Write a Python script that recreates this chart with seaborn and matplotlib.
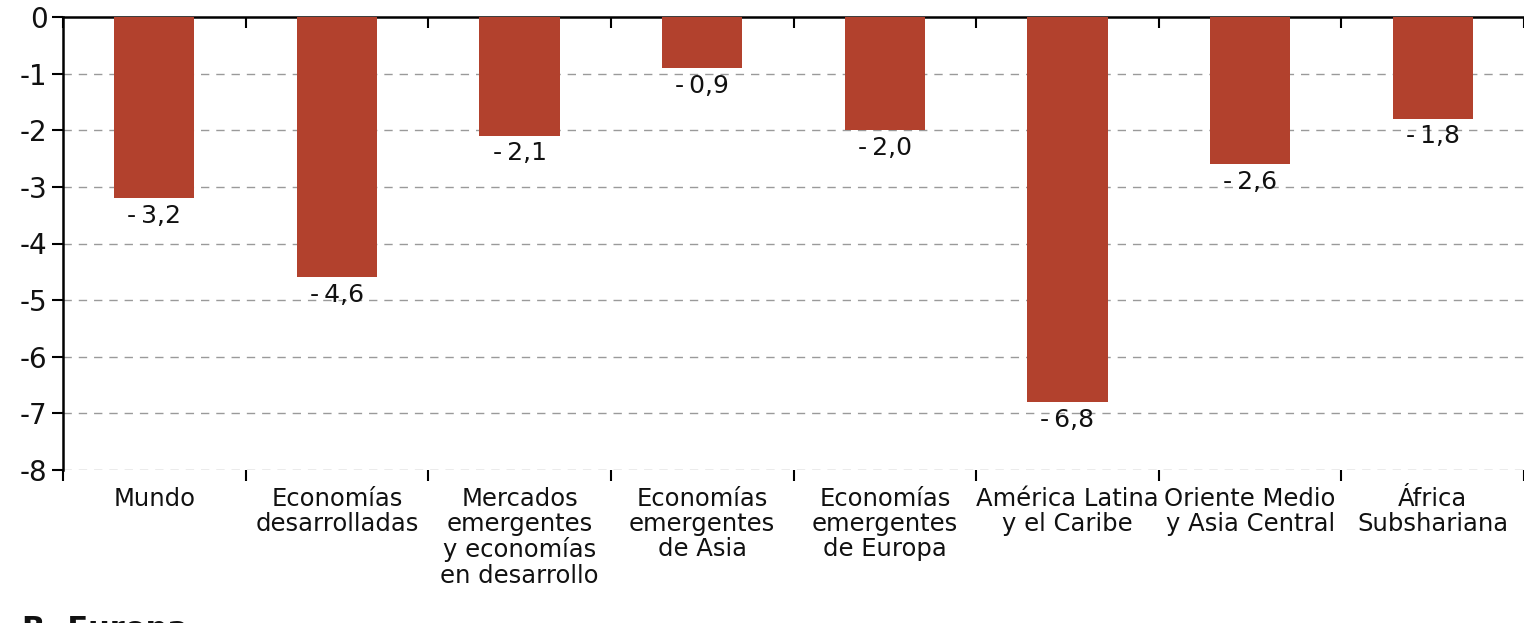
import numpy as np
import pandas as pd
import matplotlib
matplotlib.use("Agg")
import matplotlib.pyplot as plt
import seaborn as sns

categories = ["Mundo", "Economías\ndesarrolladas", "Mercados\nemergentes\ny economías\nen desarrollo",
              "Economías\nemergentes\nde Asia", "Economías\nemergentes\nde Europa",
              "América Latina\ny el Caribe", "Oriente Medio\ny Asia Central", "África\nSubshariana"]
values = [-3.2, -4.6, -2.1, -0.9, -2.0, -6.8, -2.6, -1.8]
yticks = [0, -1, -2, -3, -4, -5, -6, -7, -8]

sns.set_theme(style="white")
plt.rcParams['font.family'] = ['DejaVu Sans']
plt.rcParams['axes.unicode_minus'] = False
plt.rcParams['text.color'] = '#111111'
plt.rcParams['xtick.color'] = '#111111'
plt.rcParams['ytick.color'] = '#111111'

df = pd.DataFrame({"cat": categories, "val": values})

fig = plt.figure(figsize=(15.24, 6.23), dpi=100)
ax = fig.add_axes([63/1524, 1 - 470/623, 1 - 63/1524, (470 - 17)/623])
sns.barplot(data=df, x="cat", y="val", color="#B2412D", width=0.44, saturation=1, ax=ax,
            zorder=3, linewidth=0, edgecolor="none")

ax.set_xlim(-0.5, 7.5)
ax.set_ylim(-8, 0)
ax.set_xlabel("")
ax.set_ylabel("")

# grid
for t in yticks[1:]:
    ax.axhline(t, color="#9a9a9a", lw=1.0, ls=(0, (6, 5)), zorder=1)

ax.set_yticks(yticks)
ax.set_yticklabels([str(t) for t in yticks], fontsize=20)
ax.tick_params(axis="y", direction="out", length=8, width=1.5, color="black", left=True, pad=3)

ax.set_xticks(range(len(categories)))
ax.set_xticklabels(categories, fontsize=17.5, linespacing=1.07)
ax.tick_params(axis="x", which="major", length=0, pad=12)
ax.set_xticks(np.arange(-0.5, 8, 1), minor=True)
ax.tick_params(axis="x", which="minor", direction="out", length=8, width=1.5, color="black", bottom=True)

sec = ax.secondary_xaxis("top")
sec.set_xticks(np.arange(-0.5, 8, 1))
sec.set_xticklabels([])
sec.tick_params(direction="in", length=8, width=1.5, color="black")
sec.spines["top"].set_visible(False)

for s in ["right", "bottom"]:
    ax.spines[s].set_visible(False)
ax.spines["top"].set_color("black")
ax.spines["top"].set_linewidth(1.8)
ax.spines["left"].set_color("black")
ax.spines["left"].set_linewidth(1.8)

for i, v in enumerate(values):
    lab = f"{v:.1f}".replace(".", ",").replace("-", "-\u2009")
    ax.annotate(lab, xy=(i, v), xytext=(0, -4), textcoords="offset points",
                ha="center", va="top", fontsize=18)

fig.text(22/1524, (623 - 615)/623, "B. Europa", fontsize=22, fontweight="bold", ha="left", va="top")

fig.savefig("out.png", dpi=100)
